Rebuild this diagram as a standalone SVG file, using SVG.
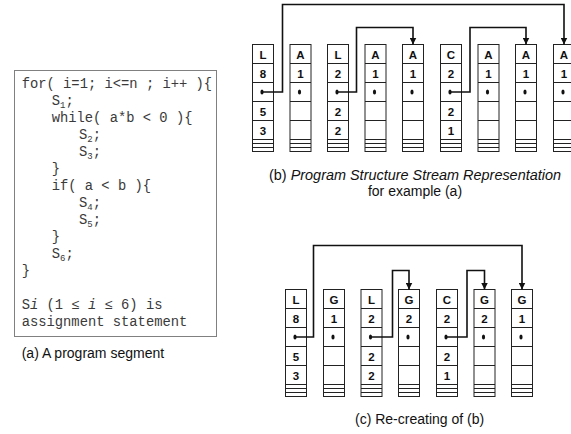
<svg xmlns="http://www.w3.org/2000/svg" xmlns:xlink="http://www.w3.org/1999/xlink" width="571" height="434" viewBox="0 0 571 434">
  <style>
    .code { font-family: "Liberation Mono", "DejaVu Sans Mono", monospace; font-size: 13.8px; fill: #3a3a3a; }
    .sub { font-size: 9px; }
    .cap { font-family: "Liberation Sans", Arial, sans-serif; font-size: 14px; fill: #111; }
    .cell { font-family: "Liberation Sans", Arial, sans-serif; font-size: 11.5px; font-weight: bold; fill: #111; text-anchor: middle; }
    .frame { fill: #fff; stroke: #222; stroke-width: 1; }
    .link { fill: none; stroke: #111; stroke-width: 1.6; }
    .dot { fill: #111; }
  </style>
  <defs>
    <!-- one stream record: five cells plus three thin trailer strips -->
    <g id="rec">
      <rect class="frame" x="0" y="0" width="21" height="107"/>
      <path class="frame" d="M0,19H21M0,38H21M0,57H21M0,76H21M0,95H21M0,99H21M0,103H21"/>
      <ellipse class="dot" cx="9.5" cy="47.5" rx="1.6" ry="2.5"/>
    </g>
    <marker id="arrow" markerUnits="userSpaceOnUse" markerWidth="8" markerHeight="7" refX="7" refY="3.5" orient="auto">
      <path d="M0,0 L7,3.5 L0,7 z" fill="#111"/>
    </marker>
  </defs>

  <rect width="571" height="434" fill="#fff"/>

  <!-- (a) source listing -->
  <g id="program">
    <rect x="14.5" y="70.5" width="202" height="266" fill="#fff" stroke="#808080" stroke-width="1"/>
    <text class="code" x="21.7" y="87.5">for( i=1; i&lt;=n ; i++ ){</text>
    <text class="code" x="51.7" y="104.5">S<tspan class="sub" dy="3">1</tspan><tspan dy="-3">;</tspan></text>
    <text class="code" x="51.7" y="121.5">while( a*b &lt; 0 ){</text>
    <text class="code" x="79" y="138.5">S<tspan class="sub" dy="3">2</tspan><tspan dy="-3">;</tspan></text>
    <text class="code" x="79" y="155.5">S<tspan class="sub" dy="3">3</tspan><tspan dy="-3">;</tspan></text>
    <text class="code" x="51.7" y="172.5">}</text>
    <text class="code" x="51.7" y="189.5">if( a &lt; b ){</text>
    <text class="code" x="79" y="206.5">S<tspan class="sub" dy="3">4</tspan><tspan dy="-3">;</tspan></text>
    <text class="code" x="79" y="223.5">S<tspan class="sub" dy="3">5</tspan><tspan dy="-3">;</tspan></text>
    <text class="code" x="51.7" y="240.5">}</text>
    <text class="code" x="51.7" y="257.5">S<tspan class="sub" dy="3">6</tspan><tspan dy="-3">;</tspan></text>
    <text class="code" x="21.7" y="274.5">}</text>
    <text class="code" x="21.7" y="308.5">S<tspan font-style="italic">i</tspan> (1 ≤ <tspan font-style="italic">i</tspan> ≤ 6) is</text>
    <text class="code" x="21.7" y="325.5">assignment statement</text>
  </g>
  <text class="cap" x="21.7" y="358">(a) A program segment</text>

  <!-- (b) stream records -->
  <g id="b0"><use xlink:href="#rec" x="252.5" y="44.5"/>
    <text class="cell" x="263" y="58.5">L</text><text class="cell" x="263" y="77.5">8</text>
    <text class="cell" x="263" y="115.5">5</text><text class="cell" x="263" y="134.5">3</text></g>
  <g id="b1"><use xlink:href="#rec" x="290" y="44.5"/>
    <text class="cell" x="300.5" y="58.5">A</text><text class="cell" x="300.5" y="77.5">1</text></g>
  <g id="b2"><use xlink:href="#rec" x="327.5" y="44.5"/>
    <text class="cell" x="338" y="58.5">L</text><text class="cell" x="338" y="77.5">2</text>
    <text class="cell" x="338" y="115.5">2</text><text class="cell" x="338" y="134.5">2</text></g>
  <g id="b3"><use xlink:href="#rec" x="365" y="44.5"/>
    <text class="cell" x="375.5" y="58.5">A</text><text class="cell" x="375.5" y="77.5">1</text></g>
  <g id="b4"><use xlink:href="#rec" x="402.5" y="44.5"/>
    <text class="cell" x="413" y="58.5">A</text><text class="cell" x="413" y="77.5">1</text></g>
  <g id="b5"><use xlink:href="#rec" x="440.5" y="44.5"/>
    <text class="cell" x="451" y="58.5">C</text><text class="cell" x="451" y="77.5">2</text>
    <text class="cell" x="451" y="115.5">2</text><text class="cell" x="451" y="134.5">1</text></g>
  <g id="b6"><use xlink:href="#rec" x="478" y="44.5"/>
    <text class="cell" x="488.5" y="58.5">A</text><text class="cell" x="488.5" y="77.5">1</text></g>
  <g id="b7"><use xlink:href="#rec" x="515.5" y="44.5"/>
    <text class="cell" x="526" y="58.5">A</text><text class="cell" x="526" y="77.5">1</text></g>
  <g id="b8"><use xlink:href="#rec" x="553.5" y="44.5"/>
    <text class="cell" x="564" y="58.5">A</text><text class="cell" x="564" y="77.5">1</text></g>

  <text class="cap" x="269" y="180" textLength="292" lengthAdjust="spacingAndGlyphs">(b) <tspan font-style="italic">Program Structure Stream Representation</tspan></text>
  <text class="cap" x="415" y="196" text-anchor="middle">for example (a)</text>

  <!-- (c) rebuilt records -->
  <g id="c0"><use xlink:href="#rec" x="285.5" y="289.5"/>
    <text class="cell" x="296" y="303.5">L</text><text class="cell" x="296" y="322.5">8</text>
    <text class="cell" x="296" y="360.5">5</text><text class="cell" x="296" y="379.5">3</text></g>
  <g id="c1"><use xlink:href="#rec" x="323.5" y="289.5"/>
    <text class="cell" x="334" y="303.5">G</text><text class="cell" x="334" y="322.5">1</text></g>
  <g id="c2"><use xlink:href="#rec" x="361" y="289.5"/>
    <text class="cell" x="371.5" y="303.5">L</text><text class="cell" x="371.5" y="322.5">2</text>
    <text class="cell" x="371.5" y="360.5">2</text><text class="cell" x="371.5" y="379.5">2</text></g>
  <g id="c3"><use xlink:href="#rec" x="398.5" y="289.5"/>
    <text class="cell" x="409" y="303.5">G</text><text class="cell" x="409" y="322.5">2</text></g>
  <g id="c4"><use xlink:href="#rec" x="436.5" y="289.5"/>
    <text class="cell" x="447" y="303.5">C</text><text class="cell" x="447" y="322.5">2</text>
    <text class="cell" x="447" y="360.5">2</text><text class="cell" x="447" y="379.5">1</text></g>
  <g id="c5"><use xlink:href="#rec" x="474" y="289.5"/>
    <text class="cell" x="484.5" y="303.5">G</text><text class="cell" x="484.5" y="322.5">2</text></g>
  <g id="c6"><use xlink:href="#rec" x="511.5" y="289.5"/>
    <text class="cell" x="522" y="303.5">G</text><text class="cell" x="522" y="322.5">1</text></g>

  <text class="cap" x="355" y="424">(c) Re-creating of (b)</text>

  <!-- connectors: from a record's pointer cell up and over to its target -->
  <g id="connectors">
    <path class="link" marker-end="url(#arrow)" d="M262,92 H282.5 V4.5 H564 V44.5"/>
    <path class="link" marker-end="url(#arrow)" d="M337.5,92 H356.5 V27.5 H413 V44.5"/>
    <path class="link" marker-end="url(#arrow)" d="M450.5,92 H470 V27.5 H526 V44.5"/>
    <path class="link" marker-end="url(#arrow)" d="M295.5,337 H313.5 V245.5 H522 V289.5"/>
    <path class="link" marker-end="url(#arrow)" d="M371,337 H392.5 V270.5 H409 V289.5"/>
    <path class="link" marker-end="url(#arrow)" d="M446,337 H467 V270.5 H484.5 V289.5"/>
  </g>
</svg>
